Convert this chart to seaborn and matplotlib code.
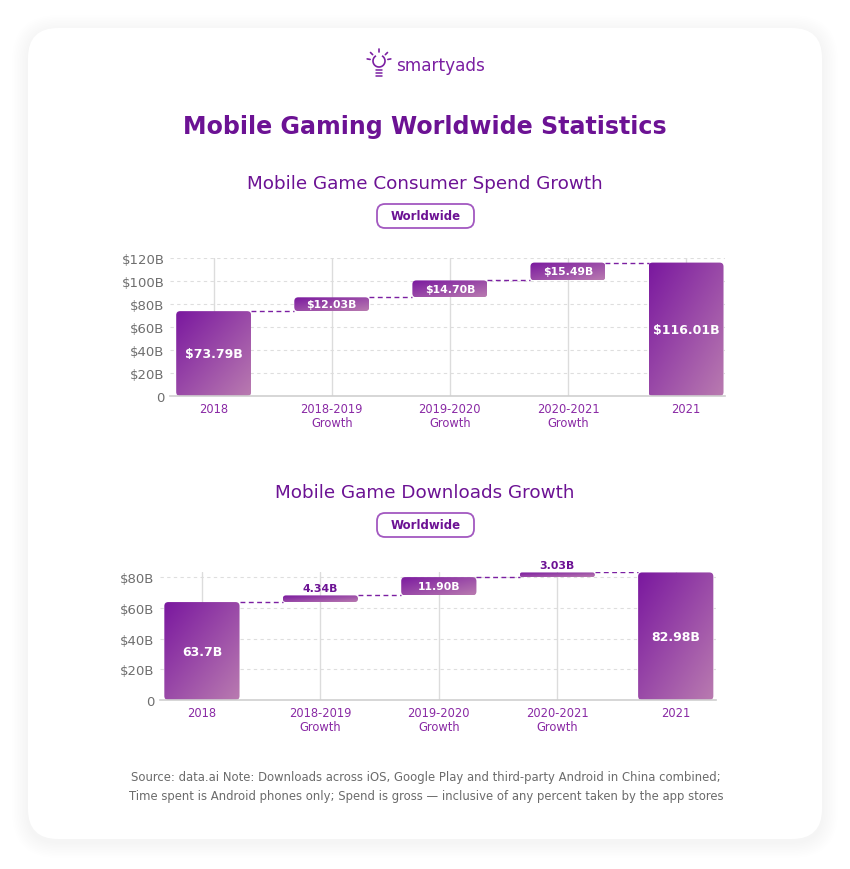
import numpy as np
import pandas as pd
import matplotlib
matplotlib.use("Agg")
import matplotlib.pyplot as plt
import seaborn as sns
from matplotlib.patches import FancyBboxPatch, Arc
from matplotlib.colors import LinearSegmentedColormap

# ---------------- data ----------------
categories = ["2018", "2018-2019\nGrowth", "2019-2020\nGrowth", "2020-2021\nGrowth", "2021"]

spend_values = [73.79, 12.03, 14.70, 15.49, 116.01]
spend_labels = ["$73.79B", "$12.03B", "$14.70B", "$15.49B", "$116.01B"]
spend_yticks = [0, 20, 40, 60, 80, 100, 120]
spend_yticklabels = ["0", "$20B", "$40B", "$60B", "$80B", "$100B", "$120B"]

download_values = [63.7, 4.34, 11.90, 3.03, 82.98]
download_labels = ["63.7B", "4.34B", "11.90B", "3.03B", "82.98B"]
download_yticks = [0, 20, 40, 60, 80]
download_yticklabels = ["0", "$20B", "$40B", "$60B", "$80B"]

title = "Mobile Gaming Worldwide Statistics"
subtitle1 = "Mobile Game Consumer Spend Growth"
subtitle2 = "Mobile Game Downloads Growth"
badge = "Worldwide"
brand = "smartyads"
source_text = ("Source: data.ai Note: Downloads across iOS, Google Play and third-party Android in China combined;\n"
               "Time spent is Android phones only; Spend is gross \u2014 inclusive of any percent taken by the app stores")

# ---------------- style ----------------
sns.set_theme(style="white")
plt.rcParams["font.family"] = ["DejaVu Sans"]

PURPLE = "#6c1294"
PURPLE2 = "#7b1fa2"
TICKPURPLE = "#8a2aa5"
GRAD = LinearSegmentedColormap.from_list("g", ["#7a189f", "#b97bb0"])

W, H = 850, 870
fig = plt.figure(figsize=(W / 100, H / 100), dpi=100)
fig.patch.set_facecolor("white")

# background / decoration axes in pixel coordinates
bg = fig.add_axes([0, 0, 1, 1], zorder=-1)
bg.set_xlim(0, W)
bg.set_ylim(H, 0)
bg.axis("off")

# card shadow + card
for k in range(10):
    pad = 1.6 * (k + 1)
    bg.add_patch(FancyBboxPatch((28 - pad, 29 - pad + 3), 794 + 2 * pad, 811 + 2 * pad,
                                boxstyle=f"round,pad=0,rounding_size={30 + pad}",
                                facecolor="#000000", edgecolor="none", alpha=0.0035))
bg.add_patch(FancyBboxPatch((28, 29), 794, 811, boxstyle="round,pad=0,rounding_size=30",
                            facecolor="white", edgecolor="none"))

# logo: bulb + brand text
cx, cy = 379, 62
bg.add_patch(Arc((cx, cy), 12, 12, theta1=-60, theta2=240, color=PURPLE2, lw=1.2))
for ang in [90, 45, 135, 10, 170]:
    a = np.deg2rad(ang)
    bg.plot([cx + 9 * np.cos(a), cx + 12 * np.cos(a)], [cy - 9 * np.sin(a), cy - 12 * np.sin(a)],
            color=PURPLE2, lw=1.2, solid_capstyle="round")
for yy in [71, 74, 77]:
    bg.plot([cx - 3, cx + 3], [yy, yy], color=PURPLE2, lw=1.1, solid_capstyle="round")
bg.text(396, 66, brand, fontsize=12.2, color=PURPLE2, va="center", ha="left")

# titles
bg.text(425, 127, title, fontsize=17.1, fontweight="bold", color=PURPLE, ha="center", va="center")
bg.text(425, 184, subtitle1, fontsize=13.2, color=PURPLE, ha="center", va="center")
bg.text(425, 493, subtitle2, fontsize=13.2, color=PURPLE, ha="center", va="center")
for yc in [217, 526]:
    bg.add_patch(FancyBboxPatch((377, yc - 12), 97, 24, boxstyle="round,pad=0,rounding_size=8",
                                facecolor="white", edgecolor="#a258c0", lw=1.3))
    bg.text(425.5, yc, badge, fontsize=8.5, fontweight="bold", color=PURPLE, ha="center", va="center")

bg.text(426, 787, source_text, fontsize=8.4, color="#6b6b6b", ha="center", va="center",
        linespacing=1.6)


def waterfall(ax, vals, labels, yticks, yticklabels, ymax, xlim):
    bottoms = [0.0]
    run = vals[0]
    for v in vals[1:-1]:
        bottoms.append(run)
        run += v
    bottoms.append(0.0)

    df = pd.DataFrame({"cat": categories, "val": vals})
    sns.barplot(data=df, x="cat", y="val", ax=ax, width=0.635, color=PURPLE2, errorbar=None)

    ax.set_xlim(*xlim)
    ax.set_ylim(0, ymax)
    ax.set_autoscale_on(False)
    ax.set_facecolor("none")
    ax.set_xlabel("")
    ax.set_ylabel("")

    p0 = ax.transData.transform((0, 0))
    p1 = ax.transData.transform((1, 1))
    pxx, pxy = p1[0] - p0[0], p1[1] - p0[1]

    # grid
    for y in yticks[1:]:
        ax.axhline(y, color="#dedede", lw=0.8, ls=(0, (3, 3)), zorder=0.5)
    for i in range(len(categories)):
        ax.axvline(i, color="#dcdcdc", lw=1.0, zorder=0.6)

    u, v = np.meshgrid(np.linspace(0, 1, 80), np.linspace(0, 1, 80))
    grad = (u + (1 - v)) / 2.0

    patches = list(ax.patches)
    for i, p in enumerate(patches):
        x0, w = p.get_x(), p.get_width()
        b, h = bottoms[i], vals[i]
        p.set_y(b)
        p.set_visible(False)
        hpx, wpx = h * pxy, w * pxx
        rpx = min(4.0, hpx / 2.0, wpx / 2.0)
        fb = FancyBboxPatch((x0, b), w, h, boxstyle=f"round,pad=0,rounding_size={rpx / pxx}",
                            mutation_aspect=pxx / pxy, facecolor="none", edgecolor="none")
        ax.add_patch(fb)
        im = ax.imshow(grad, extent=(x0, x0 + w, b, b + h), origin="lower", cmap=GRAD,
                       aspect="auto", zorder=3, interpolation="bilinear", vmin=0, vmax=1)
        im.set_clip_path(fb)

        xc = x0 + w / 2
        if i in (0, len(vals) - 1):
            ax.text(xc, b + h / 2, labels[i], color="white", fontsize=9, fontweight="bold",
                    ha="center", va="center", zorder=5)
        elif hpx >= 12:
            ax.text(xc, b + h / 2, labels[i], color="white", fontsize=7.8, fontweight="bold",
                    ha="center", va="center", zorder=5)
        else:
            ax.text(xc, b + h + 2.0 / pxy, labels[i], color=PURPLE, fontsize=7.8, fontweight="bold",
                    ha="center", va="bottom", zorder=5)

    # connectors
    for i in range(len(vals) - 1):
        level = bottoms[i] + vals[i]
        xa = patches[i].get_x() + patches[i].get_width()
        xb = patches[i + 1].get_x()
        ax.plot([xa, xb], [level, level], color=PURPLE2, lw=1.0, ls=(0, (3.5, 2.5)), zorder=2)

    for s in ["top", "right", "left"]:
        ax.spines[s].set_visible(False)
    ax.spines["bottom"].set_color("#cfcfcf")
    ax.spines["bottom"].set_linewidth(1.2)
    ax.spines["bottom"].set_zorder(4)

    ax.set_yticks(yticks)
    ax.set_yticklabels(yticklabels)
    ax.tick_params(axis="y", length=0, pad=4, labelsize=9.5, labelcolor="#6e6e6e")
    ax.tick_params(axis="x", length=0, pad=4, labelsize=8.3, labelcolor=TICKPURPLE)
    for t in ax.get_xticklabels():
        t.set_linespacing(1.15)


ax1 = fig.add_axes([170 / W, 1 - 397 / H, 555 / W, 138 / H])
waterfall(ax1, spend_values, spend_labels, spend_yticks, spend_yticklabels, 120, (-0.37, 4.33))

ax2 = fig.add_axes([160 / W, 1 - 701 / H, 556 / W, 127.6 / H])
waterfall(ax2, download_values, download_labels, download_yticks, download_yticklabels, 83, (-0.354, 4.34))

fig.savefig("out.png", dpi=100, facecolor="white")
